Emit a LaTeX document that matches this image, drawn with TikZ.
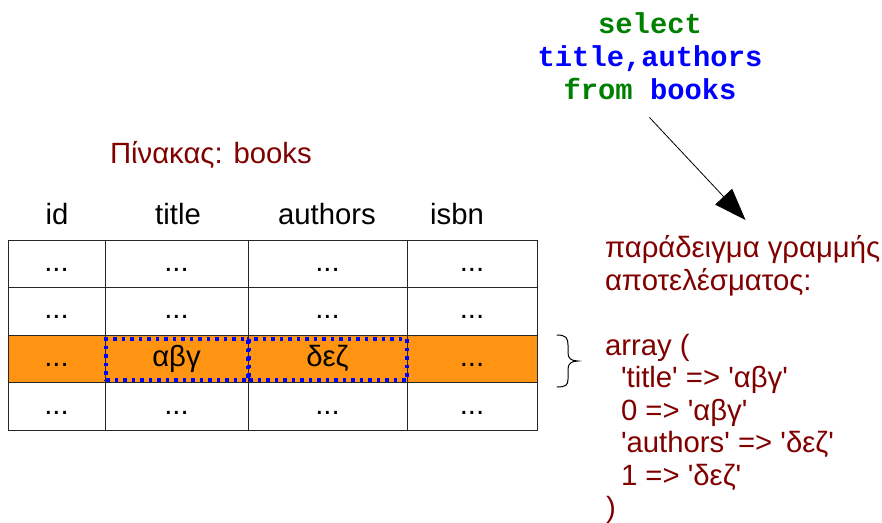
\documentclass[tikz,border=0pt]{standalone}
\usepackage{fontspec}
\setmainfont{Liberation Sans}[Ligatures=TeXOff]
\newfontfamily\codefont{Liberation Mono}
\usetikzlibrary{arrows.meta}

\definecolor{rowhl}{RGB}{255,148,18}
\definecolor{darkred}{RGB}{128,0,0}
\definecolor{kwgreen}{RGB}{0,128,0}
\definecolor{idblue}{RGB}{0,0,255}

\tikzset{
  txt/.style={inner sep=0pt, outer sep=0pt, font=\fontsize{29.3}{32.5}\selectfont},
  cell/.style={txt, draw=black!85, line width=1pt, minimum height=47.5pt,
    text height=19pt, text depth=4pt},
  hlcell/.style={cell, fill=rowhl},
  selbox/.style={draw=idblue, line width=3.5pt, dash pattern=on 3.5pt off 5pt,
    inner sep=0pt, minimum height=41pt},
  code/.style={inner sep=0pt, outer sep=0pt, anchor=base,
    font=\codefont\bfseries\fontsize{28.8}{33}\selectfont},
  res/.style={txt, anchor=base west, text=darkred},
}

\begin{document}
\begin{tikzpicture}[x=1pt, y=-1pt]
\path[use as bounding box] (0,0) rectangle (882,522);

% SQL query
\node[code, text=kwgreen] (q1) at (650,33) {select};
\node[code, text=idblue] (q2) at (650,66) {title,authors};
\node[code] (q3) at (650,99) {\textcolor{kwgreen}{from} \textcolor{idblue}{books}};

% table caption and column headers
\node[txt, anchor=base west, text=darkred] (caption) at (110,163) {Πίνακας: books};
\node[txt, anchor=base] (hid) at (57,224) {id};
\node[txt, anchor=base] (htitle) at (178,224) {title};
\node[txt, anchor=base] (hauthors) at (327,224) {authors};
\node[txt, anchor=base] (hisbn) at (457,224) {isbn};

% table rows
\foreach \r/\yc in {1/263.75, 2/311.25, 4/406.5}{
  \foreach \c/\xc/\w in {1/56.5/97, 2/176.5/143, 3/327.5/159, 4/472/130}{
    \node[cell, minimum width=\w pt] (c\r\c) at (\xc,\yc) {...};
  }
}
\node[hlcell, minimum width=97pt]  (c31) at (56.5,359)  {...};
\node[hlcell, minimum width=143pt] (c32) at (176.5,359) {αβγ};
\node[hlcell, minimum width=159pt] (c33) at (327.5,359) {δεζ};
\node[hlcell, minimum width=130pt] (c34) at (472,359)   {...};

% selected fields
\node[selbox, minimum width=142pt] (seltitle) at (177,359.5) {};
\node[selbox, minimum width=158pt] (selauthors) at (328,359.5) {};

% brace next to the selected row
\draw[line width=1pt, line cap=round]
  (557,335) .. controls (566,335) and (568,338) .. (568,345) -- (568,353)
  .. controls (568,358) and (571,361) .. (578,361)
  .. controls (571,361) and (568,364) .. (568,369) -- (568,379)
  .. controls (568,385) and (566,387) .. (557,387);

% query result
\coordinate (qtail) at (649.5,117.5);
\coordinate (rtip) at (745.5,220);
\draw[line width=0.8pt, -{Triangle[length=32pt, width=23pt]}] (qtail) -- (rtip);

\node[res] (r1) at (605,257.5) {παράδειγμα γραμμής};
\node[res] (r2) at (605,290) {αποτελέσματος:};
\node[res] (r3) at (605,355) {array (};
\node[res] (r4) at (621,387.5) {'title' => 'αβγ'};
\node[res] (r5) at (621,420) {0 => 'αβγ'};
\node[res] (r6) at (621,452.5) {'authors' => 'δεζ'};
\node[res] (r7) at (621,485) {1 => 'δεζ'};
\node[res] (r8) at (606,517) {)};
\end{tikzpicture}
\end{document}
